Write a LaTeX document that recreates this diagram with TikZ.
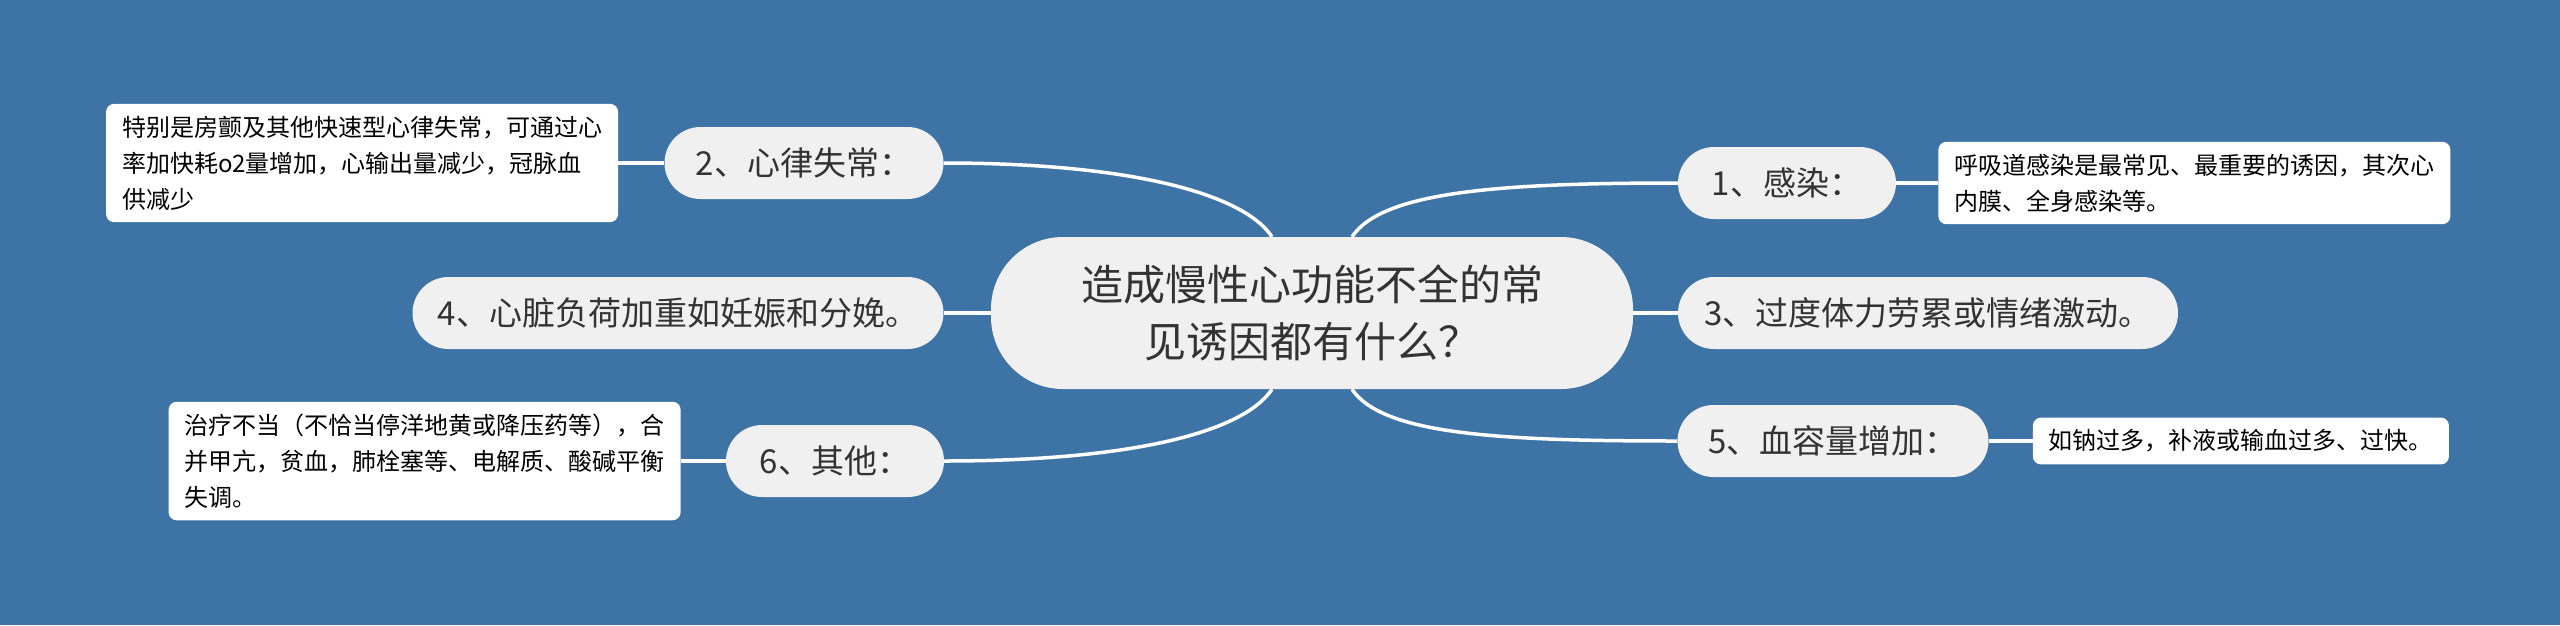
\documentclass[tikz,border=0pt]{standalone}
\usepackage{fontspec}
\setmainfont{Noto Sans CJK SC}
\usepackage{tikz}
\usetikzlibrary{positioning}
\usepackage{xcolor}

\definecolor{bgblue}{HTML}{3E73A5}
\definecolor{capsule}{HTML}{F0F0F0}
\definecolor{inktext}{HTML}{333333}

\begin{document}
\begin{tikzpicture}[
                  x=1pt, y=-1pt,
                  node distance=44pt,
                  every node/.style={text=inktext},
                  root/.style={rectangle, fill=capsule, minimum width=642pt, minimum height=152pt, rounded corners=72pt, align=center, font=\fontsize{42pt}{57pt}\selectfont},
                  topic/.style={rectangle, fill=capsule, minimum height=72pt, rounded corners=36pt, inner xsep=0pt, align=center, font=\fontsize{33pt}{40pt}\selectfont},
                  note/.style={rectangle, fill=white, rounded corners=8pt, inner xsep=16pt, inner ysep=12pt, align=left, text=black, font=\fontsize{24pt}{36pt}\selectfont},
                  link/.style={white, line width=3.5pt}
            ]

            % Background
            \fill[bgblue] (0,0) rectangle (2560,625);
            \useasboundingbox (0,0) rectangle (2560,625);

            % Nodes
            \node (root) [root] at (1312,313) {造成慢性心功能不全的常\\见诱因都有什么？};

            \node (infect) [topic, minimum width=218pt] at (1787,183) {1、感染：};
            \node (rhythm) [topic, minimum width=279pt] at (804,163) {2、心律失常：};
            \node (strain) [topic, minimum width=500pt] at (1928,313) {3、过度体力劳累或情绪激动。};
            \node (load) [topic, minimum width=531pt] at (678,313) {4、心脏负荷加重如妊娠和分娩。};
            \node (volume) [topic, minimum width=311pt] at (1833,441) {5、血容量增加：};
            \node (other) [topic, minimum width=218pt] at (835,461) {6、其他：};

            % Notes beside the topics
            \node (infectnote) [note, right=42pt of infect] {呼吸道感染是最常见、最重要的诱因，其次心\\内膜、全身感染等。};
            \node (rhythmnote) [note, left=46pt of rhythm] {特别是房颤及其他快速型心律失常，可通过心\\率加快耗o2量增加，心输出量减少，冠脉血\\供减少};
            \node (volumenote) [note, right=44pt of volume] {如钠过多，补液或输血过多、过快。};
            \node (othernote) [note, left=45pt of other] {治疗不当（不恰当停洋地黄或降压药等），合\\并甲亢，贫血，肺栓塞等、电解质、酸碱平衡\\失调。};

            % Links from the root
            \draw [link] ([xshift=-40pt]root.north) .. controls +(-30,-45) and +(180,0) .. (rhythm.east);
            \draw [link] ([xshift=40pt]root.north) .. controls +(30,-45) and +(-180,0) .. (infect.west);
            \draw [link] (root.west) -- (load.east);
            \draw [link] (root.east) -- (strain.west);
            \draw [link] ([xshift=-40pt]root.south) .. controls +(-30,45) and +(180,0) .. (other.east);
            \draw [link] ([xshift=40pt]root.south) .. controls +(30,45) and +(-180,0) .. (volume.west);

            % Links to the notes
            \draw [link] (infect) -- (infectnote);
            \draw [link] (rhythm) -- (rhythmnote);
            \draw [link] (volume) -- (volumenote);
            \draw [link] (other) -- (othernote);

      \end{tikzpicture}
\end{document}
